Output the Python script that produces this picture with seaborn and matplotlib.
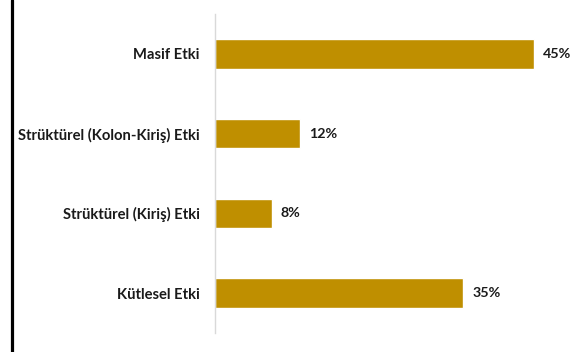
import matplotlib
matplotlib.use("Agg")
import matplotlib.pyplot as plt
import seaborn as sns
import pandas as pd
from matplotlib.lines import Line2D

categories = ["Masif Etki", "Strüktürel (Kolon-Kiriş) Etki", "Strüktürel (Kiriş) Etki", "Kütlesel Etki"]
values = [45, 12, 8, 35]
value_labels = ["45%", "12%", "8%", "35%"]

sns.set_theme(style="white")
plt.rcParams['font.family'] = ['Lato', 'DejaVu Sans']

df = pd.DataFrame({"cat": categories, "val": values})

fig = plt.figure(figsize=(5.71, 3.52), dpi=100)
ax = fig.add_axes([215/571, 19/352, 356/571, 319/352])
sns.barplot(data=df, x="val", y="cat", orient="h", color="#BF8F00", saturation=1,
            width=0.37, ax=ax)
ax.set_xlim(0, 356/7.09)
ax.set_ylim(3.5, -0.5)
ax.set_xlabel("")
ax.set_ylabel("")
ax.set_xticks([])
for s in ["top", "right", "bottom"]:
    ax.spines[s].set_visible(False)
ax.spines["left"].set_color("#d9d9d9")
ax.spines["left"].set_linewidth(1)
ax.tick_params(axis="y", length=0, pad=11)
for lab in ax.get_yticklabels():
    lab.set_fontweight("bold")
    lab.set_fontsize(10.6)
    lab.set_color("#1a1a1a")
ax.bar_label(ax.containers[0], labels=value_labels, padding=6.5,
             fontsize=10.3, fontweight="bold", color="#1a1a1a")
ax.patch.set_alpha(0)

fig.add_artist(Line2D([12/571, 12/571], [0, 1], transform=fig.transFigure,
                      color="black", linewidth=2.3))

fig.savefig("out.png", dpi=100)
